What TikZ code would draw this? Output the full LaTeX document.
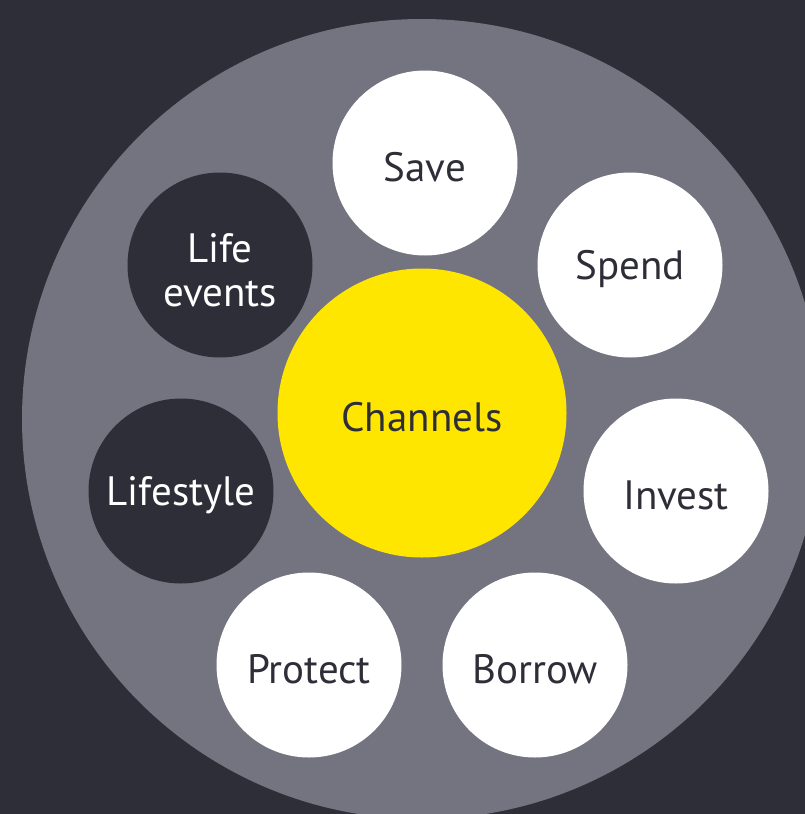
\documentclass[tikz,border=0pt]{standalone}
\usepackage{fontspec}
\setmainfont{PT Sans}
\definecolor{eydark}{HTML}{2E2E38}
\definecolor{eygrey}{HTML}{747480}
\definecolor{eyyellow}{HTML}{FFE600}
\tikzset{
  bubble/.style={circle, minimum size=185pt, inner sep=0pt},
  light/.style={bubble, fill=white},
  dark/.style={bubble, fill=eydark},
  label/.style={align=center, font=\fontsize{41}{44}\selectfont}
}
\begin{document}
\begin{tikzpicture}[x=1pt,y=-1pt]
    % Background and frame
    \useasboundingbox (0,0) rectangle (805,814);
    \fill[eydark] (0,0) rectangle (805,814);
    \clip (0,0) rectangle (805,814);
    \fill[eygrey] (422,419) circle (400);
    % Centre
    \node[bubble, minimum size=289pt, fill=eyyellow] (channels) at (422,413) {};
    \node[label, text=eydark] (channels-text) at ([yshift=-4pt]channels.center) {Channels};
    % Outer circles
    \node[light] (save) at (425,163) {};
    \node[light] (spend) at (630,265) {};
    \node[light] (invest) at (676,491) {};
    \node[light] (borrow) at (535,665) {};
    \node[light] (protect) at (309,665) {};
    \node[dark] (lifestyle) at (181,491) {};
    \node[dark] (lifeevents) at (220,265) {};
    % Labels, a little below the centres
    \foreach \n/\t/\c in {save/Save/eydark, spend/Spend/eydark, invest/Invest/eydark,
        borrow/Borrow/eydark, protect/Protect/eydark, lifestyle/Lifestyle/white}
      \node[label, text=\c] (\n-text) at ([yshift=-4pt]\n.center) {\t};
    \node[label, text=white] (lifeevents-text) at ([yshift=-5pt]lifeevents.center) {Life\\events};
\end{tikzpicture}
\end{document}
